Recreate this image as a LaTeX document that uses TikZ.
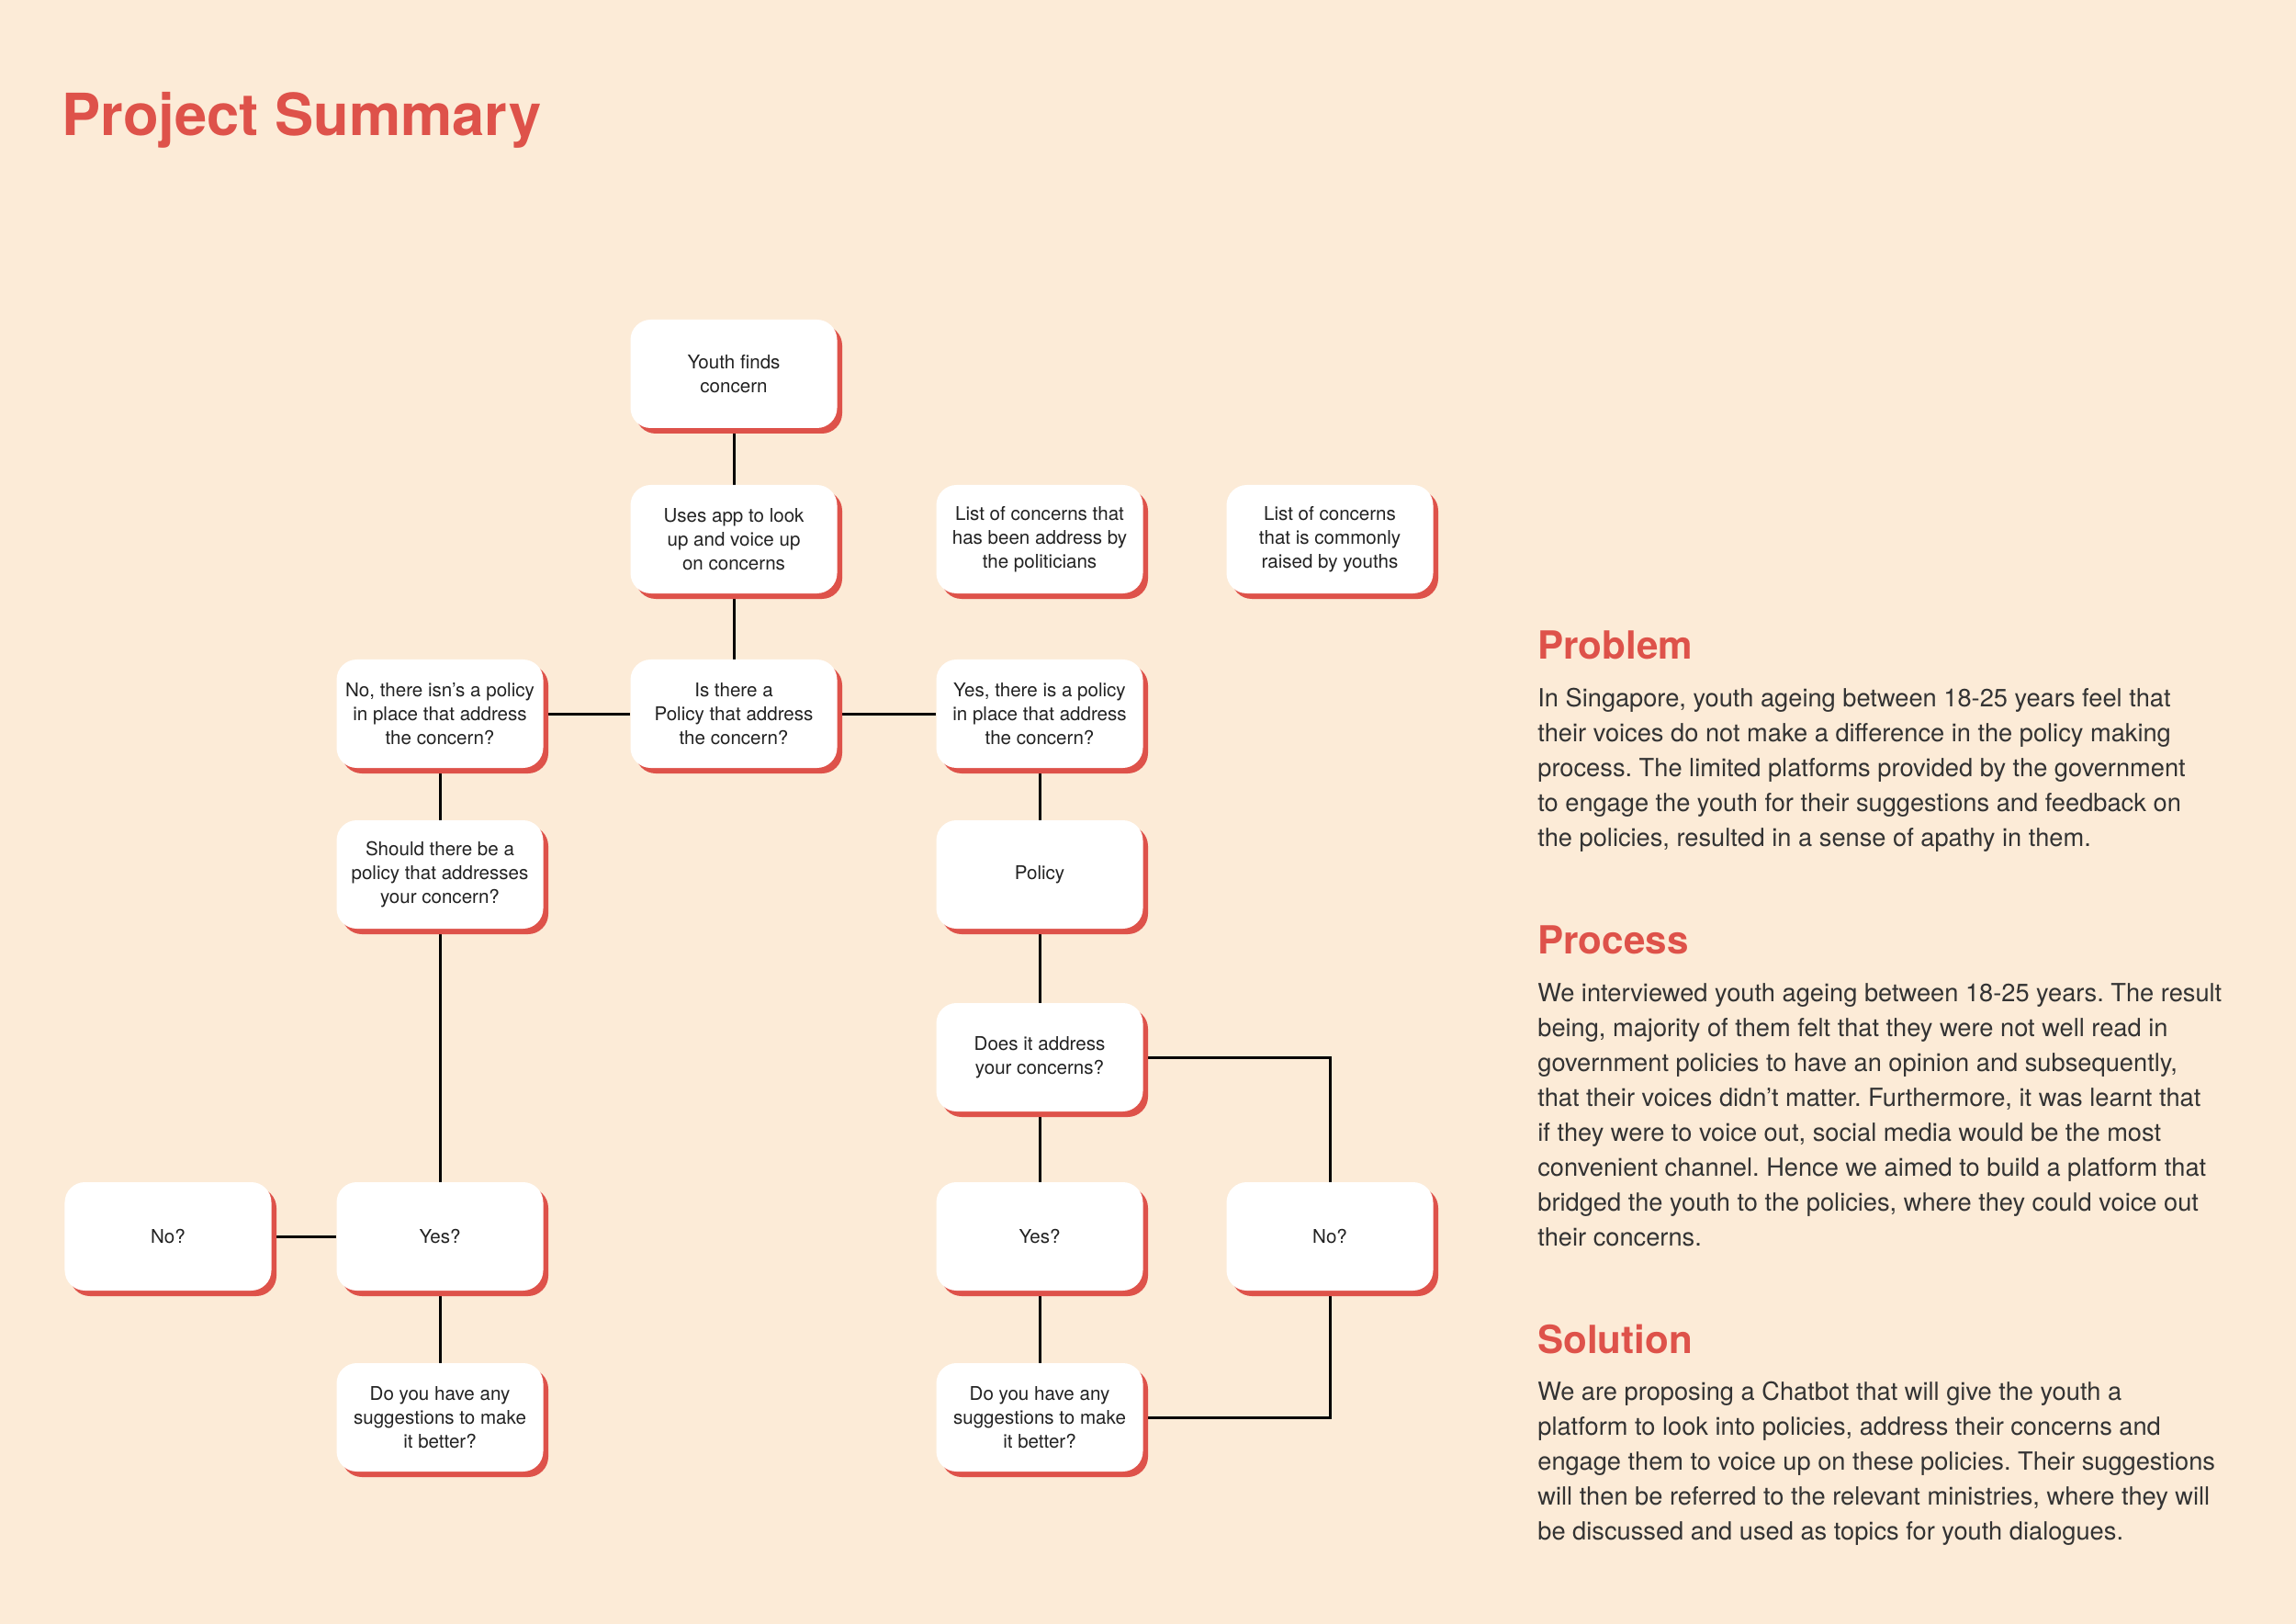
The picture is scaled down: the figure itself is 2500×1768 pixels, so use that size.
\documentclass[tikz,border=0pt]{standalone}
\usepackage{fontspec}
\setmainfont{TeX Gyre Heros}
\usetikzlibrary{shadows}
\definecolor{bgc}{HTML}{FCEBD7}
\definecolor{redc}{HTML}{DE524A}
\definecolor{txt}{HTML}{222222}
\definecolor{bodyc}{HTML}{333333}
\pgfdeclarelayer{bg}
\pgfdeclarelayer{lines}
\pgfsetlayers{bg,lines,main}
\frenchspacing
\begin{document}
\begin{tikzpicture}[x=0.2mm,y=-0.2mm,
  box/.style={fill=white, rounded corners=4.4mm, minimum width=45mm, minimum height=23.6mm,
    inner sep=0pt, align=center, font=\fontsize{11.7pt}{14.9pt}\selectfont, text=txt,
    drop shadow={shadow xshift=1.1mm, shadow yshift=-1.2mm, fill=redc, opacity=1}},
  conn/.style={line width=0.6mm, black},
  heading/.style={anchor=base west, inner sep=0pt, text=redc, font=\fontsize{24pt}{28pt}\bfseries\selectfont},
  para/.style={anchor=base west, inner sep=0pt, align=left, text=bodyc, font=\fontsize{15.5pt}{21.6pt}\selectfont}]
\useasboundingbox (0,0) rectangle (2500,1768);
\begin{pgfonlayer}{bg}
  \fill[bgc] (0,0) rectangle (2500,1768);
\end{pgfonlayer}

\node[anchor=base west, inner sep=0pt, text=redc, font=\fontsize{36pt}{40pt}\bfseries\selectfont] (title) at (67,148) {Project Summary};

% flowchart
\node[box] (youth) at (799,407) {Youth finds\\concern};
\node[box] (uses) at (799,587) {Uses app to look\\up and voice up\\on concerns};
\node[box] (listA) at (1132,587) {List of concerns that\\has been address by\\the politicians};
\node[box] (listB) at (1448,587) {List of concerns\\that is commonly\\raised by youths};
\node[box] (isthere) at (799,777) {Is there a\\Policy that address\\the concern?};
\node[box] (nopol) at (479,777) {No, there isn’s a policy\\in place that address\\the concern?};
\node[box] (yespol) at (1132,777) {Yes, there is a policy\\in place that address\\the concern?};
\node[box] (should) at (479,952) {Should there be a\\policy that addresses\\your concern?};
\node[box] (policy) at (1132,952) {Policy};
\node[box] (doesit) at (1132,1151) {Does it address\\your concerns?};
\node[box] (noL) at (183,1346) {No?};
\node[box] (yesL) at (479,1346) {Yes?};
\node[box] (yesR) at (1132,1346) {Yes?};
\node[box] (noR) at (1448,1346) {No?};
\node[box] (sugL) at (479,1543) {Do you have any\\suggestions to make\\it better?};
\node[box] (sugR) at (1132,1543) {Do you have any\\suggestions to make\\it better?};

\begin{pgfonlayer}{lines}
  \draw[conn] (youth) -- (uses);
  \draw[conn] (uses) -- (isthere);
  \draw[conn] (isthere) -- (nopol);
  \draw[conn] (isthere) -- (yespol);
  \draw[conn] (nopol) -- (should);
  \draw[conn] (should) -- (yesL);
  \draw[conn] (yesL) -- (noL);
  \draw[conn] (yesL) -- (sugL);
  \draw[conn] (yespol) -- (policy);
  \draw[conn] (policy) -- (doesit);
  \draw[conn] (doesit) -- (yesR);
  \draw[conn] (yesR) -- (sugR);
  \draw[conn] (doesit.center) -| (noR.center);
  \draw[conn] (noR.center) |- (sugR.center);
\end{pgfonlayer}

% right column (para nodes anchored at the baseline of their last line)
\node[heading] (hprob) at (1674,717) {Problem};
\node[para] (tprob) at (1674,921) {In Singapore, youth ageing between 18-25 years feel that\\their voices do not make a difference in the policy making\\process. The limited platforms provided by the government\\to engage the youth for their suggestions and feedback on\\the policies, resulted in a sense of apathy in them.};
\node[heading] (hproc) at (1674,1038) {Process};
\node[para] (tproc) at (1674,1356) {We interviewed youth ageing between 18-25 years. The result\\being, majority of them felt that they were not well read in\\government policies to have an opinion and subsequently,\\that their voices didn’t matter. Furthermore, it was learnt that\\if they were to voice out, social media would be the most\\convenient channel. Hence we aimed to build a platform that\\bridged the youth to the policies, where they could voice out\\their concerns.};
\node[heading] (hsol) at (1674,1473) {Solution};
\node[para] (tsol) at (1674,1676) {We are proposing a Chatbot that will give the youth a\\platform to look into policies, address their concerns and\\engage them to voice up on these policies. Their suggestions\\will then be referred to the relevant ministries, where they will\\be discussed and used as topics for youth dialogues.};
\end{tikzpicture}
\end{document}
